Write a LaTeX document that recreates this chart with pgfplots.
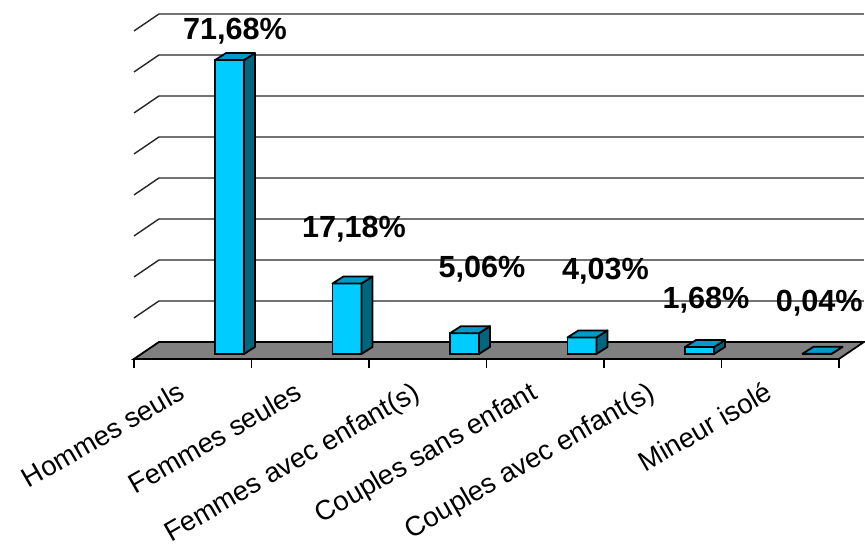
\documentclass[border=0pt]{standalone}
\usepackage{pgfplots}
\pgfplotsset{compat=1.18}
\usepackage{pgfplotstable}
\usepackage{fontspec}
\setmainfont{Liberation Sans}
\definecolor{barfront}{HTML}{00CCFF}
\definecolor{bartop}{HTML}{0099CC}
\definecolor{barside}{HTML}{006680}
\definecolor{floorgray}{HTML}{808080}

\pgfplotstableread{
x v
0 71.68
1 17.18
2 5.06
3 4.03
4 1.68
5 0.04
}\datatable

% side and top faces of a 3D bar: #1 = category position, #2 = value
\newcommand\barfaces[2]{%
  \pgfmathsetmacro\xl{#1-0.1234}%
  \pgfmathsetmacro\xr{#1+0.1234}%
  \pgfmathsetmacro\xlb{#1-0.1234+0.0936}%
  \pgfmathsetmacro\xrb{#1+0.1234+0.0936}%
  \pgfmathsetmacro\vv{#2}%
  \pgfmathsetmacro\vb{#2+1.71}%
  \edef\doit{%
    \noexpand\addplot[fill=barside, draw=black, line width=0.9pt, line join=round, mark=none]
      coordinates {(\xr,0) (\xrb,1.71) (\xrb,\vb) (\xr,\vv)} -- cycle;
    \noexpand\addplot[fill=bartop, draw=black, line width=0.9pt, line join=round, mark=none]
      coordinates {(\xl,\vv) (\xr,\vv) (\xrb,\vb) (\xlb,\vb)} -- cycle;
  }\doit
}

\begin{document}
\begin{tikzpicture}
\begin{axis}[
  x=58.75pt, y=2.05pt,
  xmin=-1.953, xmax=5.409, ymin=-47.32, ymax=86.34,
  axis x line=bottom, axis y line=none,
  axis line style={draw=none},
  xtick={-0.45,0.55,1.55,2.55,3.55,4.55},
  xticklabels={Hommes seuls, Femmes seules, Femmes avec enfant(s), Couples sans enfant, Couples avec enfant(s), Mineur isolé},
  major tick length=0pt,
  xticklabel shift=-84pt,
  xticklabel style={rotate=30, anchor=north east, inner sep=0pt, font=\fontsize{13.75}{16}\selectfont},
  ytick=\empty,
  clip=false,
]
% invisible extent
\addplot[draw=none, mark=none, forget plot] coordinates {(-1.953,-47.32) (5.409,86.34)};
% floor
\addplot[fill=floorgray, draw=black, line width=0.9pt, mark=none] coordinates {(-0.813,-1.22) (5.187,-1.22) (5.400,2.93) (-0.600,2.93)} -- cycle;
% front edge with tick marks
\addplot[black, line width=0.9pt, mark=none] coordinates {
 (-0.813,-3.41) (-0.813,-1.22) (0.187,-1.22) (0.187,-3.41) (0.187,-1.22)
 (1.187,-1.22) (1.187,-3.41) (1.187,-1.22) (2.187,-1.22) (2.187,-3.41) (2.187,-1.22)
 (3.187,-1.22) (3.187,-3.41) (3.187,-1.22) (4.187,-1.22) (4.187,-3.41) (4.187,-1.22)
 (5.187,-1.22) (5.187,-3.41)};
% gridlines (side wall diagonal + back wall)
\addplot[black!85, line width=0.7pt, mark=none] coordinates {(-0.813,8.78) (-0.600,12.93) (5.400,12.93)};
\addplot[black!85, line width=0.7pt, mark=none] coordinates {(-0.813,18.78) (-0.600,22.93) (5.400,22.93)};
\addplot[black!85, line width=0.7pt, mark=none] coordinates {(-0.813,28.78) (-0.600,32.93) (5.400,32.93)};
\addplot[black!85, line width=0.7pt, mark=none] coordinates {(-0.813,38.78) (-0.600,42.93) (5.400,42.93)};
\addplot[black!85, line width=0.7pt, mark=none] coordinates {(-0.813,48.78) (-0.600,52.93) (5.400,52.93)};
\addplot[black!85, line width=0.7pt, mark=none] coordinates {(-0.813,58.78) (-0.600,62.93) (5.400,62.93)};
\addplot[black!85, line width=0.7pt, mark=none] coordinates {(-0.813,68.78) (-0.600,72.93) (5.400,72.93)};
\addplot[black!85, line width=0.7pt, mark=none] coordinates {(-0.813,78.78) (-0.600,82.93) (5.400,82.93)};
% bar fronts
\addplot[ybar, bar width=0.2468, bar shift=0pt, fill=barfront, draw=black, line width=0.9pt, mark=none] table[x=x, y=v] {\datatable};
% bar sides and tops
\pgfplotsinvokeforeach{0,...,5}{%
  \pgfplotstablegetelem{#1}{v}\of\datatable
  \let\val\pgfplotsretval
  \barfaces{#1}{\val}
}
% data labels
\addplot[draw=none, mark=none, nodes near coords, point meta=explicit symbolic,
  every node near coord/.style={anchor=center, inner sep=0pt, font=\bfseries\fontsize{15.3}{18}\selectfont}]
  coordinates {(0.047,78.8) [71,68\%] (1.06,30.5) [17,18\%] (2.149,20.7) [5,06\%]
               (3.20,20.2) [4,03\%] (4.055,13.2) [1,68\%] (5.02,12.4) [0,04\%]};
\end{axis}
\end{tikzpicture}
\end{document}
